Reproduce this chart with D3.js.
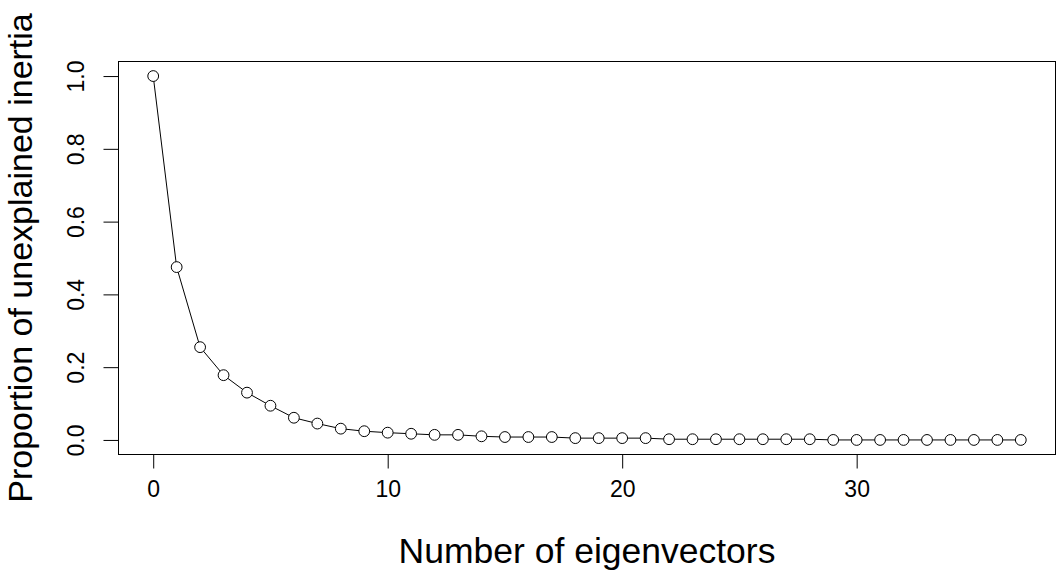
<!DOCTYPE html>
<html>
<head>
<meta charset="utf-8">
<script src="https://cdn.jsdelivr.net/npm/d3@7"></script>
<style>
  html, body { margin: 0; padding: 0; background: #fff; }
  svg { display: block; }
  text { font-family: "Liberation Sans", Arial, sans-serif; fill: #000; }
</style>
</head>
<body>
<svg id="chart" width="1056" height="571"></svg>
<script>
// Data
const eigenvectorCounts = d3.range(0, 38);
const unexplainedInertia = [
  1.000, 0.475, 0.255, 0.178, 0.130, 0.094, 0.061, 0.045, 0.031, 0.024,
  0.020, 0.017, 0.014, 0.014, 0.010, 0.008, 0.008, 0.008, 0.005, 0.005,
  0.005, 0.005, 0.002, 0.002, 0.002, 0.002, 0.002, 0.002, 0.002, 0.000,
  0.000, 0.000, 0.000, 0.000, 0.000, 0.000, 0.000, 0.000
];
const xTicks = [0, 10, 20, 30];
const yTicks = [0.0, 0.2, 0.4, 0.6, 0.8, 1.0];
const xTitle = "Number of eigenvectors";
const yTitle = "Proportion of unexplained inertia";

const svg = d3.select("#chart");
const mLeft = 118.5, mRight = 1055.5, mTop = 61.5, mBottom = 454.5;

// R-style 4% axis extension
const xr = d3.extent(eigenvectorCounts), xe = (xr[1] - xr[0]) * 0.04;
const x = d3.scaleLinear().domain([xr[0] - xe, xr[1] + xe]).range([mLeft, mRight]);
const y = d3.scaleLinear().domain([0 - 0.04, 1 + 0.04]).range([mBottom, mTop]);

const data = eigenvectorCounts.map((d, i) => ({ x: d, y: unexplainedInertia[i] }));

// Box
svg.append("rect")
  .attr("x", mLeft).attr("y", mTop)
  .attr("width", mRight - mLeft).attr("height", mBottom - mTop)
  .attr("fill", "none").attr("stroke", "#000").attr("stroke-width", 1);

// X axis
const xAxis = d3.axisBottom(x).tickValues(xTicks).tickSize(14).tickPadding(12)
  .tickFormat(d3.format("d"));
const gx = svg.append("g").attr("transform", `translate(0,${mBottom})`).call(xAxis);
gx.select(".domain").remove();
gx.selectAll("line").attr("stroke", "#000");
gx.selectAll("text").attr("font-size", 23).attr("fill", "#000")
  .attr("font-family", "Liberation Sans, Arial, sans-serif");

// Y axis
const yAxis = d3.axisLeft(y).tickValues(yTicks).tickSize(15).tickFormat(d3.format(".1f"));
const gy = svg.append("g").attr("transform", `translate(${mLeft},0)`).call(yAxis);
gy.select(".domain").remove();
gy.selectAll("line").attr("stroke", "#000");
gy.selectAll("text")
  .attr("font-size", 23).attr("fill", "#000")
  .attr("font-family", "Liberation Sans, Arial, sans-serif")
  .attr("x", null).attr("dy", null)
  .attr("text-anchor", "middle")
  .attr("transform", "translate(-35,0) rotate(-90)");

// Line
svg.append("path")
  .datum(data)
  .attr("fill", "none").attr("stroke", "#000").attr("stroke-width", 1)
  .attr("d", d3.line().x(d => x(d.x)).y(d => y(d.y)));

// Points
svg.selectAll("circle.pt").data(data).join("circle")
  .attr("class", "pt")
  .attr("cx", d => x(d.x)).attr("cy", d => y(d.y)).attr("r", 5.4)
  .attr("fill", "#fff").attr("stroke", "#000").attr("stroke-width", 1);

// Titles
svg.append("text")
  .attr("x", (mLeft + mRight) / 2).attr("y", 563)
  .attr("text-anchor", "middle").attr("font-size", 35.5)
  .text(xTitle);

svg.append("text")
  .attr("transform", `translate(31.5,${(mTop + mBottom) / 2}) rotate(-90)`)
  .attr("text-anchor", "middle").attr("font-size", 34)
  .text(yTitle);
</script>
</body>
</html>
